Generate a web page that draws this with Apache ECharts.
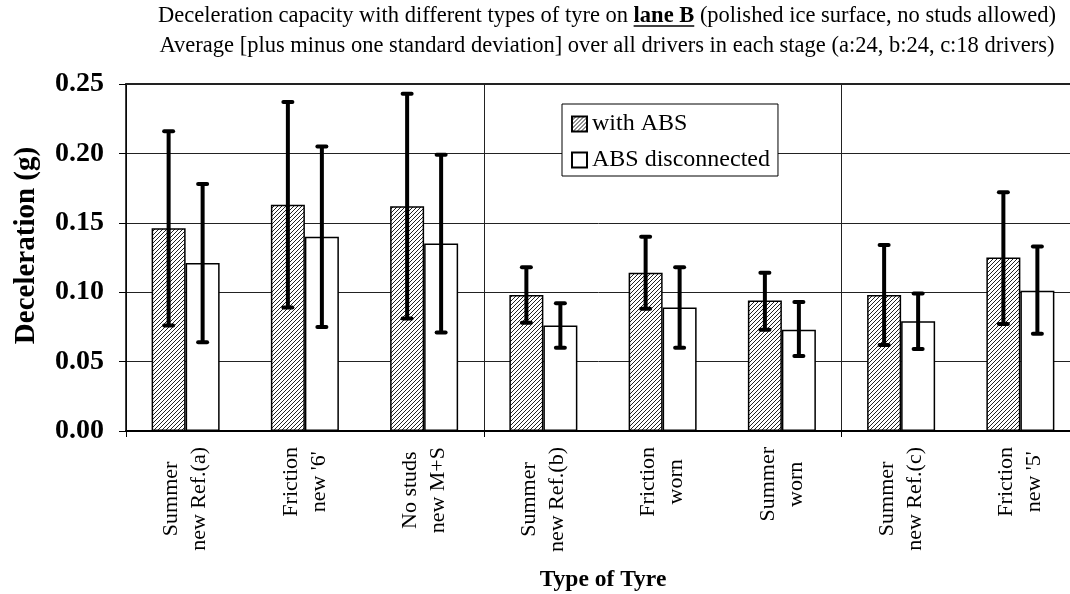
<!DOCTYPE html>
<html>
<head>
<meta charset="utf-8">
<script src="https://cdn.jsdelivr.net/npm/echarts@6.0.0/dist/echarts.min.js"></script>
<style>
html,body{margin:0;padding:0;background:#fff;}
#chart{width:1070px;height:594px;}
</style>
</head>
<body>
<div id="chart"></div>
<script>
// ---- data ----
const categories = ["Summer\nnew Ref.(a)", "Friction\nnew '6'", "No studs\nnew M+S", "Summer\nnew Ref.(b)", "Friction\nworn", "Summer\nworn", "Summer\nnew Ref.(c)", "Friction\nnew '5'"];
const seriesNames = ["with ABS", "ABS disconnected"];
const withAbs      = [0.146, 0.163, 0.162, 0.098, 0.114, 0.094, 0.098, 0.125];
const withAbsLow   = [0.076, 0.089, 0.081, 0.078, 0.088, 0.073, 0.062, 0.077];
const withAbsHigh  = [0.216, 0.237, 0.243, 0.118, 0.140, 0.114, 0.134, 0.172];
const absOff       = [0.121, 0.140, 0.135, 0.076, 0.089, 0.073, 0.079, 0.101];
const absOffLow    = [0.064, 0.075, 0.071, 0.060, 0.060, 0.054, 0.059, 0.070];
const absOffHigh   = [0.178, 0.205, 0.199, 0.092, 0.118, 0.093, 0.099, 0.133];
const yMin = 0, yMax = 0.25, yStep = 0.05;
const titlePre = "Deceleration capacity with different types of tyre on ";
const titleBold = "lane B";
const titlePost = " (polished ice surface, no studs allowed)";
const titleLine2 = "Average [plus minus one standard deviation] over all drivers in each stage (a:24, b:24, c:18 drivers)";
const yName = "Deceleration (g)";
const xName = "Type of Tyre";

// ---- styling ----
const FONT = '"Liberation Serif", "Times New Roman", serif';
const TITLE_SIZE = 22.5;
const TITLE_LH = 30;
const TITLE_TOP = 1;
const TITLE_CX = 607;

// hatch pattern
const pat = document.createElement('canvas');
pat.width = 4; pat.height = 4;
const pc = pat.getContext('2d');
pc.fillStyle = '#fff'; pc.fillRect(0,0,4,4);
pc.strokeStyle = '#222'; pc.lineWidth = 1;
pc.beginPath();
pc.moveTo(0,4); pc.lineTo(4,0);
pc.moveTo(-1,1); pc.lineTo(1,-1);
pc.moveTo(3,5); pc.lineTo(5,3);
pc.stroke();

// measure title for underline
const mc = document.createElement('canvas').getContext('2d');
mc.font = TITLE_SIZE + 'px ' + FONT;
const wPre = mc.measureText(titlePre).width;
const wPost = mc.measureText(titlePost).width;
mc.font = 'bold ' + TITLE_SIZE + 'px ' + FONT;
const wBold = mc.measureText(titleBold).width;
const line1Start = TITLE_CX - (wPre + wBold + wPost) / 2;
const underlineY = TITLE_TOP + TITLE_LH / 2 + TITLE_SIZE * 0.36 + 2;

const chart = echarts.init(document.getElementById('chart'), null, {renderer: 'canvas'});

function errorSeries(low, high, offset) {
  return {
    type: 'custom',
    z: 5,
    silent: true,
    data: categories.map((c, i) => [i, low[i], high[i]]),
    encode: {x: 0, y: [1, 2]},
    renderItem: function (params, api) {
      const i = api.value(0);
      const pLo = api.coord([i, api.value(1)]);
      const pHi = api.coord([i, api.value(2)]);
      const x = pLo[0] + offset;
      const cap = 4.5;
      const st = {stroke: '#000', lineWidth: 4, lineCap: 'round'};
      return {
        type: 'group',
        children: [
          {type: 'line', shape: {x1: x, y1: pLo[1], x2: x, y2: pHi[1]}, style: {stroke: '#000', lineWidth: 4}},
          {type: 'line', shape: {x1: x - cap, y1: pHi[1], x2: x + cap, y2: pHi[1]}, style: st},
          {type: 'line', shape: {x1: x - cap, y1: pLo[1], x2: x + cap, y2: pLo[1]}, style: st}
        ]
      };
    }
  };
}

const option = {
  backgroundColor: '#fff',
  animation: false,
  textStyle: {fontFamily: FONT, color: '#000'},
  grid: {left: 126, top: 84, width: 954, height: 347, containLabel: false, outerBoundsMode: 'none'},
  graphic: [
    {
      type: 'text', x: TITLE_CX, y: TITLE_TOP, z: 10,
      style: {
        text: '{r|' + titlePre + '}{b|' + titleBold + '}{r|' + titlePost + '}\n{r|' + titleLine2 + '}',
        align: 'center', verticalAlign: 'top',
        rich: {
          r: {fontFamily: FONT, fontSize: TITLE_SIZE, lineHeight: TITLE_LH, fill: '#000', align: 'center'},
          b: {fontFamily: FONT, fontSize: TITLE_SIZE, fontWeight: 'bold', lineHeight: TITLE_LH, fill: '#000', align: 'center'}
        }
      }
    },
    {
      type: 'line', z: 10,
      shape: {x1: line1Start + wPre, y1: underlineY, x2: line1Start + wPre + wBold, y2: underlineY},
      style: {stroke: '#000', lineWidth: 1.5}
    }
  ],
  legend: {
    data: seriesNames,
    orient: 'vertical',
    left: 562, top: 104,
    padding: [8, 8, 4, 9],
    itemGap: 12,
    itemWidth: 15, itemHeight: 15,
    icon: 'rect',
    selectedMode: false,
    backgroundColor: '#fff',
    borderColor: '#000',
    borderWidth: 1,
    borderRadius: 0,
    textStyle: {fontFamily: FONT, fontSize: 24, color: '#000'}
  },
  xAxis: [
    {
      type: 'category',
      data: categories,
      position: 'bottom',
      boundaryGap: true,
      name: xName,
      nameLocation: 'middle',
      nameGap: 137,
      nameTextStyle: {fontFamily: FONT, fontSize: 23.5, fontWeight: 'bold', color: '#000'},
      axisLine: {show: true, lineStyle: {color: '#000', width: 2}},
      axisTick: {show: true, length: 6, interval: function (i) { return i % 3 === 0; }, lineStyle: {color: '#000', width: 1}},
      splitLine: {show: true, interval: function (i) { return i % 3 === 0; }, lineStyle: {color: '#222', width: 1}},
      axisLabel: {
        interval: 0, rotate: 90, margin: 16,
        formatter: function (v) { return v.split('\n').map(s => '{c|' + s + '}').join('\n'); },
        rich: {c: {fontFamily: FONT, fontSize: 22, lineHeight: 28, color: '#000', align: 'center'}}
      }
    },
    {
      type: 'category',
      data: categories,
      position: 'top',
      axisLine: {show: true, lineStyle: {color: '#222', width: 2}},
      axisTick: {show: false},
      axisLabel: {show: false},
      splitLine: {show: false}
    }
  ],
  yAxis: {
    type: 'value',
    min: yMin, max: yMax, interval: yStep,
    name: yName,
    nameLocation: 'middle',
    nameRotate: 90,
    nameGap: 85,
    nameTextStyle: {fontFamily: FONT, fontSize: 29, fontWeight: 'bold', color: '#000', padding: [0, 0, 0, 24]},
    axisLine: {show: true, lineStyle: {color: '#000', width: 1.5}},
    axisTick: {show: true, length: 7, lineStyle: {color: '#000', width: 1}},
    splitLine: {show: true, lineStyle: {color: '#222', width: 1}},
    axisLabel: {
      margin: 22,
      fontFamily: FONT, fontSize: 28, fontWeight: 'bold', color: '#000',
      formatter: function (v) { return v.toFixed(2); }
    }
  },
  series: [
    {
      name: seriesNames[0], type: 'bar', data: withAbs, barWidth: 34, barGap: '0%',
      itemStyle: {color: {image: pat, repeat: 'repeat'}, borderColor: '#000', borderWidth: 1.5}
    },
    {
      name: seriesNames[1], type: 'bar', data: absOff, barWidth: 34, barGap: '0%',
      itemStyle: {color: '#fff', borderColor: '#000', borderWidth: 1.5}
    },
    errorSeries(withAbsLow, withAbsHigh, -17),
    errorSeries(absOffLow, absOffHigh, 17)
  ]
};
chart.setOption(option);
</script>
</body>
</html>
